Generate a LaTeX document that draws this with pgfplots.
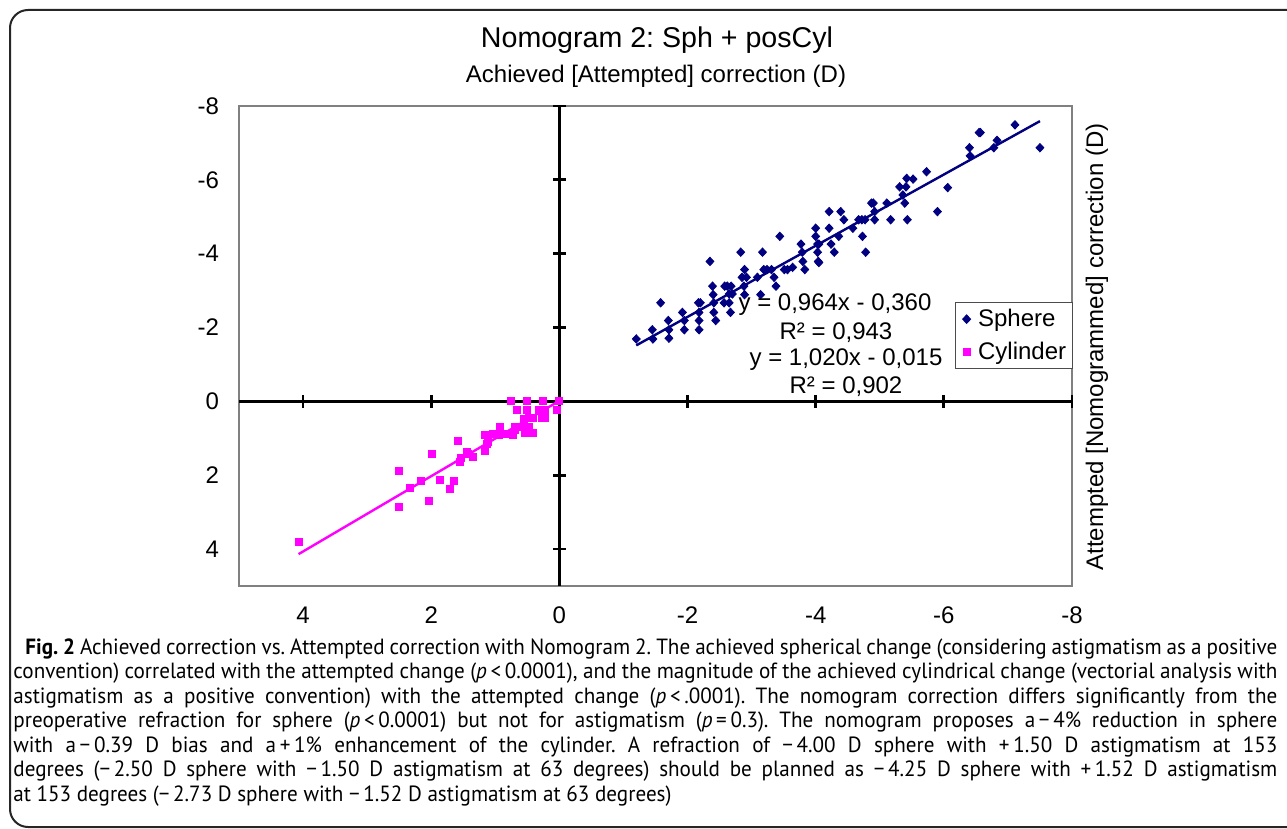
\documentclass[border=0pt]{standalone}
\usepackage{fontspec}
\setmainfont{Liberation Sans}
\newfontfamily\capfont[FakeStretch=0.96]{PT Sans}
\usepackage{pgfplots}
\pgfplotsset{compat=1.18}
\definecolor{sph}{RGB}{0,0,128}
\definecolor{cyl}{RGB}{255,0,255}
\pgfplotsset{common/.style={at={(119.5pt,-293pt)}, anchor=south west, scale only axis,
  width=416.5pt, height=240pt, xmin=-8, xmax=5, ymin=-8, ymax=5,
  x dir=reverse, y dir=reverse, enlargelimits=false}}
\newcommand\capline[1]{\hbox to\hsize{#1}}
\begin{document}
\frenchspacing
\begin{tikzpicture}[x=0.5pt,y=-0.5pt]
\useasboundingbox (0,0) rectangle (1287,829);
\draw[line width=1pt, black!85, rounded corners=9pt] (10,10) rectangle (1310,827);
\node[font=\fontsize{14.3}{17}\selectfont] at (657,40) {Nomogram 2: Sph + posCyl};
\node[font=\fontsize{12}{14}\selectfont] at (656,76) {Achieved [Attempted] correction (D)};
\node[font=\fontsize{12}{14}\selectfont, rotate=90] at (1097,347) {Attempted [Nomogrammed] correction (D)};

% frame and tick labels
\begin{axis}[common, axis line style={gray, line width=0.75pt}, major tick length=0pt,
  xtick={-8,-6,-4,-2,0,2,4}, ytick={-8,-6,-4,-2,0,2,4},
  xticklabels={-8,-6,-4,-2,0,2,4}, yticklabels={-8,-6,-4,-2,0,2,4},
  tick label style={font=\fontsize{12}{14}\selectfont},
  xticklabel style={yshift=-7pt}, yticklabel style={xshift=-6.5pt}]
\end{axis}

% zero lines with crossing ticks
\begin{axis}[common, axis lines=middle, axis line style={-, line width=1.5pt, black},
  xtick={-8,-6,-4,-2,2,4}, ytick={-8,-6,-4,-2,2,4},
  xticklabels={}, yticklabels={}, tick align=center, major tick length=6.5pt,
  tick style={line width=1.4pt, black}]
\end{axis}

% data
\begin{axis}[common, hide axis,
  legend style={at={(axis description cs:1.0008,0.5907)}, anchor=north east,
    draw=black!70, line width=0.5pt, font=\fontsize{12}{14}\selectfont,
    inner sep=1.5pt, row sep=3.2pt, nodes={inner sep=1.5pt}},
  legend cell align=left,
  legend image code/.code={\path (-4pt,0pt) (4pt,0pt); \draw[#1] plot coordinates {(0pt,0pt)};}]
\addplot[only marks, mark=diamond*, color=sph, mark size=2.1pt, mark options={xscale=1.25}] coordinates {
(-1.20,-1.69) (-1.45,-1.94) (-1.46,-1.69) (-1.58,-2.67) (-1.70,-2.19) (-1.71,-1.94)
(-1.71,-1.71) (-1.92,-2.41) (-1.95,-2.19) (-1.95,-1.94) (-2.17,-2.67) (-2.20,-2.67)
(-2.18,-2.41) (-2.18,-2.19) (-2.18,-1.94) (-2.35,-3.79) (-2.39,-3.12) (-2.40,-2.89)
(-2.41,-2.67) (-2.41,-2.41) (-2.44,-2.19) (-2.58,-3.12) (-2.62,-3.12) (-2.68,-3.12)
(-2.65,-2.91) (-2.70,-2.91) (-2.57,-2.67) (-2.65,-2.67) (-2.67,-2.41) (-2.83,-4.04)
(-2.85,-3.36) (-2.89,-3.57) (-2.92,-3.36) (-2.88,-3.12) (-2.89,-2.89) (-3.09,-3.36)
(-3.14,-2.89) (-3.17,-4.04) (-3.19,-3.57) (-3.24,-3.57) (-3.31,-3.57) (-3.35,-3.36)
(-3.38,-3.12) (-3.44,-4.47) (-3.51,-3.57) (-3.56,-3.57) (-3.64,-3.63) (-3.77,-4.26)
(-3.79,-4.04) (-3.80,-3.79) (-3.83,-3.57) (-4.00,-4.69) (-4.00,-4.47) (-4.03,-4.26)
(-4.05,-4.26) (-4.03,-4.04) (-4.04,-3.79) (-4.05,-3.76) (-4.21,-5.14) (-4.21,-4.69)
(-4.24,-4.26) (-4.29,-4.04) (-4.36,-4.47) (-4.39,-5.14) (-4.44,-4.92) (-4.58,-4.69)
(-4.67,-4.92) (-4.72,-4.92) (-4.77,-4.92) (-4.73,-4.47) (-4.78,-4.04) (-4.87,-5.37)
(-4.90,-5.37) (-4.92,-5.14) (-4.92,-4.92) (-5.11,-5.37) (-5.17,-4.92) (-5.31,-5.81)
(-5.36,-5.59) (-5.39,-5.37) (-5.41,-5.81) (-5.42,-6.04) (-5.43,-4.92) (-5.52,-6.02)
(-5.73,-6.22) (-5.90,-5.14) (-6.06,-5.79) (-6.40,-6.87) (-6.41,-6.65) (-6.55,-7.28)
(-6.57,-7.28) (-6.78,-6.87) (-6.83,-7.07) (-7.11,-7.49) (-7.50,-6.87)
};
\addlegendentry{Sphere}
\addplot[only marks, mark=square*, color=cyl, mark size=1.75pt] coordinates {
(4.06,3.80) (2.50,1.88) (2.50,2.86) (2.33,2.34) (2.16,2.15) (2.03,2.70) (1.99,1.43)
(1.87,2.12) (1.71,2.36) (1.65,2.14) (1.58,1.08) (1.55,1.64) (1.54,1.53) (1.44,1.37)
(1.43,1.43) (1.35,1.50) (1.17,0.92) (1.16,1.34) (1.13,1.14) (1.11,1.10) (1.04,0.89)
(0.95,0.90) (0.93,0.69) (0.87,0.87) (0.80,0.87) (0.76,0.87) (0.72,0.92) (0.70,0.69)
(0.69,0.78) (0.66,0.69) (0.75,0.00) (0.66,0.23) (0.56,0.47) (0.54,0.86) (0.54,0.69)
(0.50,0.00) (0.50,0.23) (0.48,0.46) (0.47,0.69) (0.42,0.86) (0.42,0.46) (0.32,0.23)
(0.26,0.00) (0.27,0.46) (0.24,0.41) (0.23,0.23) (0.22,0.45) (0.04,0.23) (0.01,0.00)
};
\addlegendentry{Cylinder}
\addplot[sph, line width=1.2pt, forget plot] coordinates {(-1.2,-1.517) (-7.5,-7.59)};
\addplot[cyl, line width=1.2pt, forget plot] coordinates {(0,-0.015) (4.07,4.136)};
\end{axis}

\begin{scope}[every node/.style={font=\fontsize{12}{14}\selectfont}]
\node at (835,305) {y = 0,964x - 0,360};
\node at (836,333) {R² = 0,943};
\node at (846,360) {y = 1,020x - 0,015};
\node at (846,387) {R² = 0,902};
\end{scope}

\node[anchor=north west, inner sep=0pt] at (13,638) {\vbox{\capfont\fontsize{11}{12.25}\selectfont
\hsize=632pt \baselineskip=12.25pt \lineskiplimit=-10pt
\capline{\hskip6pt\textbf{Fig. 2} Achieved correction vs. Attempted correction with Nomogram 2. The achieved spherical change (considering astigmatism as a positive}
\capline{convention) correlated with the attempted change (\textit{p}\,<\,0.0001), and the magnitude of the achieved cylindrical change (vectorial analysis with}
\capline{astigmatism as a positive convention) with the attempted change (\textit{p}\,<\,.0001). The nomogram correction differs significantly from the}
\capline{preoperative refraction for sphere (\textit{p}\,<\,0.0001) but not for astigmatism (\textit{p}\,=\,0.3). The nomogram proposes a\,−\,4\% reduction in sphere}
\capline{with a\,−\,0.39 D bias and a\,+\,1\% enhancement of the cylinder. A refraction of −\,4.00 D sphere with +\,1.50 D astigmatism at 153}
\capline{degrees (−\,2.50 D sphere with −\,1.50 D astigmatism at 63 degrees) should be planned as −\,4.25 D sphere with +\,1.52 D astigmatism}
\hbox{at 153 degrees (−\,2.73 D sphere with −\,1.52 D astigmatism at 63 degrees)}}};
\end{tikzpicture}
\end{document}
